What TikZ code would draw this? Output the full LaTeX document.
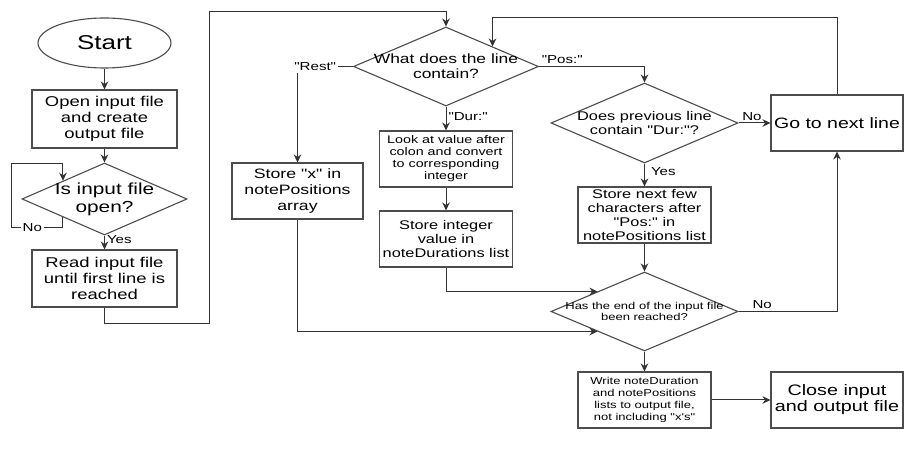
\documentclass[tikz,border=0pt]{standalone}
\usepackage{fontspec}
\setmainfont{Liberation Sans}[FakeStretch=1.3, Ligatures=TeXOff]
\usetikzlibrary{calc,arrows.meta,shapes.geometric}
\def\fsz#1#2{\fontsize{#1}{#2}\selectfont}
\tikzset{
	box/.style={draw=black!70, line width=0.55pt, align=center, inner sep=0.5pt, minimum width=66.5pt, minimum height=28pt},
	dec/.style={diamond, draw=black!70, line width=0.55pt, inner sep=0pt, minimum width=93.5pt, minimum height=40pt},
	dtext/.style={align=center, inner sep=0pt},
	lbl/.style={font=\fsz{5.8}{6}, inner sep=1pt},
	arr/.style={draw=black!80, line width=0.5pt, -{Stealth[length=4pt,width=3.8pt]}},
}

\begin{document}
\begin{tikzpicture}[x=0.5pt, y=-0.5pt]
		%%%%% START %%%%%
		
		\useasboundingbox (0,0) rectangle (922,453);
		
		\node[ellipse, draw=black!70, line width=0.55pt, minimum width=66.5pt, minimum height=25pt, inner sep=0pt, font=\fsz{10}{12}] (start) at (104.5,43) {Start};
		\node[box, minimum width=72.5pt, minimum height=29pt, font=\fsz{7.1}{8}] (open) at (104.5,119) {Open input file\\and create\\output file};
		\node[dec, minimum width=82.5pt, minimum height=36pt, label={[dtext, font=\fsz{8}{9}]center:Is input file\\open?}] (isopen) at (104.5,199) {};
		\node[box, minimum width=72.5pt, minimum height=28.5pt, font=\fsz{7.1}{8}] (read) at (104.5,278.5) {Read input file\\until first line is\\reached};
		
		\node[dec, minimum width=92.5pt, minimum height=39.5pt, label={[dtext, font=\fsz{6.7}{7.5}]center:What does the line\\contain?}] (what) at (446,66.5) {};
		\node[box, minimum width=65.5pt, font=\fsz{6.8}{8}] (storex) at (297.5,191) {Store "x" in\\notePositions\\array};
		\node[box, font=\fsz{5.5}{6}] (look) at (446,159) {Look at value after\\colon and convert\\to corresponding\\integer};
		\node[box, font=\fsz{6.3}{7}] (integer) at (446,239) {Store integer\\value in\\noteDurations list};
		
		\node[dec, label={[dtext, font=\fsz{6.3}{7}]center:Does previous line\\contain "Dur:"?}] (does) at (644.5,123) {};
		\node[box, inner sep=0pt, font=\fsz{6.3}{7}] (storenext) at (644.5,215) {Store next few\\characters after\\"Pos:" in\\notePositions list};
		\node[dec, minimum height=39.5pt, label={[dtext, font=\fsz{5}{5.4}]center:Has the end of the input file\\been reached?}] (has) at (644.5,311.5) {};
		\node[box, font=\fsz{5}{6}] (write) at (644.5,400) {Write noteDuration\\and notePositions\\lists to output file,\\not including "x's"};
		
		\node[box, minimum width=66pt, font=\fsz{7.5}{8}] (go) at (837,123) {Go to next line};
		\node[box, minimum width=66pt, font=\fsz{7.6}{8}] (close) at (837,400) {Close input\\and output file};
		
		\draw[arr] (start) -- (open);
		\draw[arr] (open) -- (isopen);
		\draw[arr] (isopen) -- node[lbl, right, pos=0.27]{Yes} (read);
		\draw[arr] ($(isopen.west)!0.5!(isopen.south)$) -- ++(0,10) -- node[lbl, fill=white, pos=0.6]{No} ++(-51,0) -- ++(0,-64) -- ++(51,0) -- ($(isopen.west)!0.5!(isopen.north)$);
		\draw[arr] (read.south) -- ++(0,16) -- ++(104.5,0) -- ++(0,-312) -| (what.north);
		
		\draw[arr] (what.west) -| node[lbl, fill=white, pos=0.34]{"Rest"} (storex.north);
		\draw[arr] (what) -- node[lbl, right, pos=0.44]{"Dur:"} (look);
		\draw[arr] (look) -- (integer);
		\draw[arr] (integer.south) |- ($(has.west)!0.5!(has.north)$);
		\draw[arr] (storex.south) |- ($(has.west)!0.5!(has.south)$);
		
		\draw[arr] (what.east) -| node[lbl, above, pos=0.11]{"Pos:"} (does.north);
		\draw[arr] (does) -- node[lbl, above, pos=0.42]{No} (go);
		\draw[arr] (does) -- node[lbl, right, xshift=2pt, pos=0.37]{Yes} (storenext);
		\draw[arr] (storenext) -- (has);
		\draw[arr] (has.east) -| node[lbl, above, pos=0.12]{No} (go.south);
		\draw[arr] (go.north) -- ++(0,-77) -| ($(what.north)!0.5!(what.east)$);
		\draw[arr] (has) -- (write);
		\draw[arr] (write) -- (close);
		
		%%%%% END %%%%%
\end{tikzpicture}
\end{document}
